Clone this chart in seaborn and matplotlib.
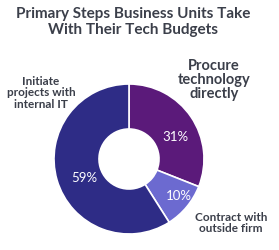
import matplotlib
matplotlib.use("Agg")
import matplotlib.pyplot as plt
import seaborn as sns

categories = ["Procure technology directly", "Contract with outside firm", "Initiate projects with internal IT"]
values = [31, 10, 59]
pct_labels = ["31%", "10%", "59%"]
colors = ["#5B1A7A", "#6C6AD0", "#2E2C86"]

sns.set_theme(style="white")
plt.rcParams['font.family'] = ['Lato', 'DejaVu Sans']

W, H = 279, 250
fig = plt.figure(figsize=(W / 100, H / 100), dpi=100)
cx, cy, r = 129, 159, 75
ax = fig.add_axes([(cx - r) / W, (H - cy - r) / H, 2 * r / W, 2 * r / H])
wedges, _ = ax.pie(values, colors=colors, startangle=90, counterclock=False,
                   radius=1.0, wedgeprops=dict(width=0.6, edgecolor="white", linewidth=1.2))
ax.set_xlim(-1, 1)
ax.set_ylim(-1, 1)
ax.set_aspect("equal")
ax.axis("off")

def px(x, y):
    return x / W, 1 - y / H

txtc = "#3B3F4A"
fig.text(*px(133, 22), "Primary Steps Business Units Take\nWith Their Tech Budgets",
         ha="center", va="center", fontsize=11, fontweight="bold", color=txtc, linespacing=1.1)

fig.text(*px(41, 93), "Initiate\nprojects with\ninternal IT", ha="center", va="center",
         fontsize=8.5, fontweight="bold", color=txtc, linespacing=1.05)
fig.text(*px(214, 80), "Procure\ntechnology\ndirectly", ha="center", va="center",
         fontsize=10.5, fontweight="bold", color=txtc, linespacing=1.0)
fig.text(*px(231, 223), "Contract with\noutside firm", ha="center", va="center",
         fontsize=8.5, fontweight="bold", color=txtc, linespacing=1.05)

pct_pos = [(175, 137), (179, 196), (84, 178)]
for lab, (x, y) in zip(pct_labels, pct_pos):
    fig.text(*px(x, y), lab, ha="center", va="center", fontsize=9.5, color="white")

fig.savefig("out.png", dpi=100)
